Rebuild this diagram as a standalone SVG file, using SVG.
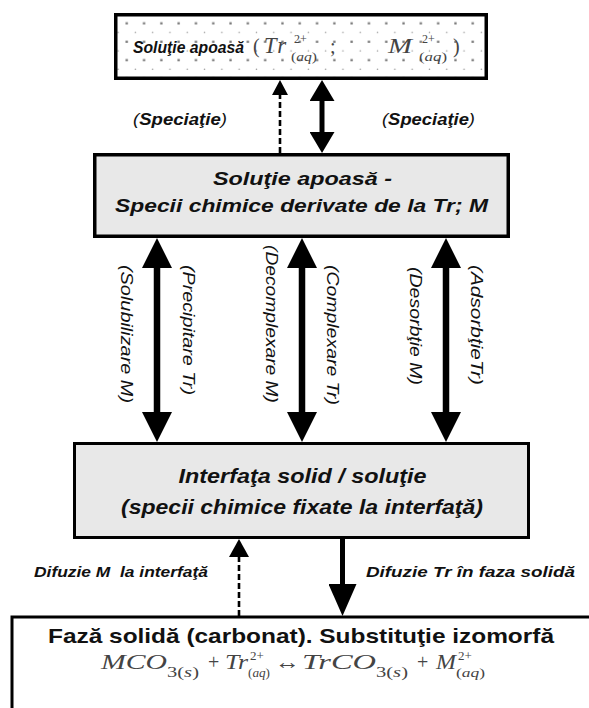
<svg xmlns="http://www.w3.org/2000/svg" width="589" height="708" viewBox="0 0 589 708">
<defs>
<style>
.box{stroke:#000;stroke-width:3.5}
.fill{fill:#e8e8e8}
.sans{font-family:"Liberation Sans",Arial,sans-serif;fill:#111}
.bi{font-weight:bold;font-style:italic}
.it{font-style:italic}
.b{font-weight:bold}
.serif{font-family:"Liberation Serif","Times New Roman",serif;fill:#444}
.shaft{stroke:#000;fill:none}
.dash{stroke-dasharray:6 3}
</style>
<pattern id="dots" patternUnits="userSpaceOnUse" x="122.4" y="18.7" width="17.3" height="18.4">
<rect x="3.2" y="3.5" width="2.3" height="2.3" fill="#7a7a7a"/>
<circle cx="12.95" cy="13.8" r="0.8" fill="#999"/>
</pattern>
<marker id="h30" viewBox="0 0 30 30" markerWidth="30" markerHeight="30" refX="0" refY="15" orient="auto-start-reverse" markerUnits="userSpaceOnUse"><path d="M0,0 L30,15 L0,30 Z" fill="#000"/></marker>
<marker id="h22" viewBox="0 0 21 25" markerWidth="21" markerHeight="25" refX="0" refY="12.5" orient="auto-start-reverse" markerUnits="userSpaceOnUse"><path d="M0,0 L21,12.5 L0,25 Z" fill="#000"/></marker>
<marker id="h15" viewBox="0 0 15 16" markerWidth="15" markerHeight="16" refX="0" refY="8" orient="auto" markerUnits="userSpaceOnUse"><path d="M0,0 L15,8 L0,16 Z" fill="#000"/></marker>
<marker id="h18" viewBox="0 0 18 20" markerWidth="18" markerHeight="20" refX="0" refY="10" orient="auto" markerUnits="userSpaceOnUse"><path d="M0,0 L18,10 L0,20 Z" fill="#000"/></marker>
<marker id="h32" viewBox="0 0 32 28" markerWidth="32" markerHeight="28" refX="0" refY="14" orient="auto" markerUnits="userSpaceOnUse"><path d="M0,0 L32,14 L0,28 Z" fill="#000"/></marker>
</defs>
<rect width="589" height="708" fill="#fff"/>

<!-- aqueous solution (top) -->
<g id="node-solutie-top">
<rect x="115.75" y="14.75" width="370.5" height="63.5" fill="#fff"/>
<rect x="115.75" y="14.75" width="370.5" height="63.5" fill="url(#dots)"/>
<rect x="115.75" y="14.75" width="370.5" height="63.5" fill="none" class="box"/>
<text class="sans bi" x="133" y="53" font-size="15.7" textLength="111" lengthAdjust="spacingAndGlyphs">Soluţie apoasă</text>
<g class="serif">
<text x="253" y="53" font-size="20">(<tspan dx="4" font-size="23" font-style="italic" letter-spacing="2">Tr</tspan></text>
<text x="294" y="43" font-size="12">2+</text>
<text x="291" y="61" font-size="12" textLength="26" lengthAdjust="spacingAndGlyphs">(<tspan font-style="italic">aq</tspan>)</text>
<text x="330" y="53" font-size="20">;</text>
<text x="388" y="53" font-size="22" font-style="italic" textLength="24" lengthAdjust="spacingAndGlyphs">M</text>
<text x="422" y="43" font-size="12">2+</text>
<text x="419" y="61" font-size="12" textLength="28" lengthAdjust="spacingAndGlyphs">(<tspan font-style="italic">aq</tspan>)</text>
<text x="453" y="53" font-size="20">)</text>
</g>
</g>

<!-- aqueous solution, derived species -->
<g id="node-specii">
<rect x="94.75" y="154.75" width="413.5" height="81.5" class="box fill"/>
<text class="sans bi" x="213" y="185" font-size="19" textLength="179" lengthAdjust="spacingAndGlyphs">Soluţie apoasă -</text>
<text class="sans bi" x="115" y="212" font-size="19" textLength="373" lengthAdjust="spacingAndGlyphs">Specii chimice derivate de la Tr; M</text>
</g>

<!-- solid / solution interface -->
<g id="node-interfata">
<rect x="74.5" y="443.5" width="454" height="94" class="box fill" style="stroke-width:3"/>
<text class="sans bi" x="178.5" y="482.5" font-size="20" textLength="248" lengthAdjust="spacingAndGlyphs">Interfaţa solid / soluţie</text>
<text class="sans bi" x="121" y="513.5" font-size="20" textLength="362" lengthAdjust="spacingAndGlyphs">(specii chimice fixate la interfaţă)</text>
</g>

<!-- solid phase -->
<g id="node-faza-solida">
<rect x="12" y="617" width="600" height="120" fill="#fff" class="box" style="stroke-width:3"/>
<text class="sans b" x="48" y="643" font-size="21" textLength="506" lengthAdjust="spacingAndGlyphs">Fază solidă (carbonat). Substituţie izomorfă</text>
<g class="serif">
<text x="101" y="669" font-size="22" font-style="italic" textLength="66" lengthAdjust="spacingAndGlyphs">MCO</text>
<text x="167" y="677" font-size="14" textLength="32" lengthAdjust="spacingAndGlyphs">3(<tspan font-style="italic">s</tspan>)</text>
<text x="208" y="669" font-size="20">+</text>
<text x="225" y="669" font-size="22" font-style="italic" textLength="23" lengthAdjust="spacingAndGlyphs">Tr</text>
<text x="250" y="660" font-size="13">2+</text>
<text x="248" y="677" font-size="13" textLength="22" lengthAdjust="spacingAndGlyphs">(<tspan font-style="italic">aq</tspan>)</text>
<text x="275" y="669" font-size="22" textLength="25" lengthAdjust="spacingAndGlyphs">↔</text>
<text x="302" y="669" font-size="22" font-style="italic" textLength="74" lengthAdjust="spacingAndGlyphs">TrCO</text>
<text x="376" y="677" font-size="14" textLength="32" lengthAdjust="spacingAndGlyphs">3(<tspan font-style="italic">s</tspan>)</text>
<text x="417" y="669" font-size="20">+</text>
<text x="436" y="669" font-size="22" font-style="italic" textLength="20" lengthAdjust="spacingAndGlyphs">M</text>
<text x="458" y="660" font-size="13">2+</text>
<text x="456" y="677" font-size="13" textLength="29" lengthAdjust="spacingAndGlyphs">(<tspan font-style="italic">aq</tspan>)</text>
</g>
</g>

<!-- connectors -->
<g id="connectors">
<line x1="280" y1="153" x2="280" y2="95" class="shaft dash" stroke-width="2.6" marker-end="url(#h15)"/>
<line x1="322" y1="101" x2="322" y2="132" class="shaft" stroke-width="5" marker-start="url(#h22)" marker-end="url(#h22)"/>
<line x1="157" y1="268" x2="157" y2="412" class="shaft" stroke-width="6.5" marker-start="url(#h30)" marker-end="url(#h30)"/>
<line x1="302" y1="268" x2="302" y2="412" class="shaft" stroke-width="6.5" marker-start="url(#h30)" marker-end="url(#h30)"/>
<line x1="446" y1="268" x2="446" y2="412" class="shaft" stroke-width="6.5" marker-start="url(#h30)" marker-end="url(#h30)"/>
<line x1="239" y1="616" x2="239" y2="557" class="shaft dash" stroke-width="2.6" marker-end="url(#h18)"/>
<line x1="342.5" y1="539" x2="342.5" y2="584" class="shaft" stroke-width="5" marker-end="url(#h32)"/>
</g>

<!-- connector labels -->
<g id="labels" class="sans">
<text class="it" x="133" y="125" font-size="17" textLength="94" lengthAdjust="spacingAndGlyphs">(<tspan class="b">Speciaţie</tspan>)</text>
<text class="it" x="382" y="125" font-size="17" textLength="93" lengthAdjust="spacingAndGlyphs">(<tspan class="b">Speciaţie</tspan>)</text>
<text class="it" transform="translate(121,265) rotate(90)" font-size="16" textLength="138" lengthAdjust="spacingAndGlyphs">(Solubilizare M)</text>
<text class="it" transform="translate(183,265) rotate(90)" font-size="16" textLength="130" lengthAdjust="spacingAndGlyphs">(Precipitare Tr)</text>
<text class="it" transform="translate(265.5,245) rotate(90)" font-size="16" textLength="158" lengthAdjust="spacingAndGlyphs">(Decomplexare M)</text>
<text class="it" transform="translate(326.5,265) rotate(90)" font-size="16" textLength="140" lengthAdjust="spacingAndGlyphs">(Complexare Tr)</text>
<text class="it" transform="translate(410,267) rotate(90)" font-size="16" textLength="118" lengthAdjust="spacingAndGlyphs">(Desorbţie M)</text>
<text class="it" transform="translate(471,265) rotate(90)" font-size="16" textLength="120" lengthAdjust="spacingAndGlyphs">(AdsorbţieTr)</text>
<text class="bi" x="34" y="577" font-size="15" textLength="174" lengthAdjust="spacingAndGlyphs" xml:space="preserve">Difuzie M  la interfaţă</text>
<text class="bi" x="366" y="577" font-size="15" textLength="209" lengthAdjust="spacingAndGlyphs">Difuzie Tr în faza solidă</text>
</g>
</svg>
